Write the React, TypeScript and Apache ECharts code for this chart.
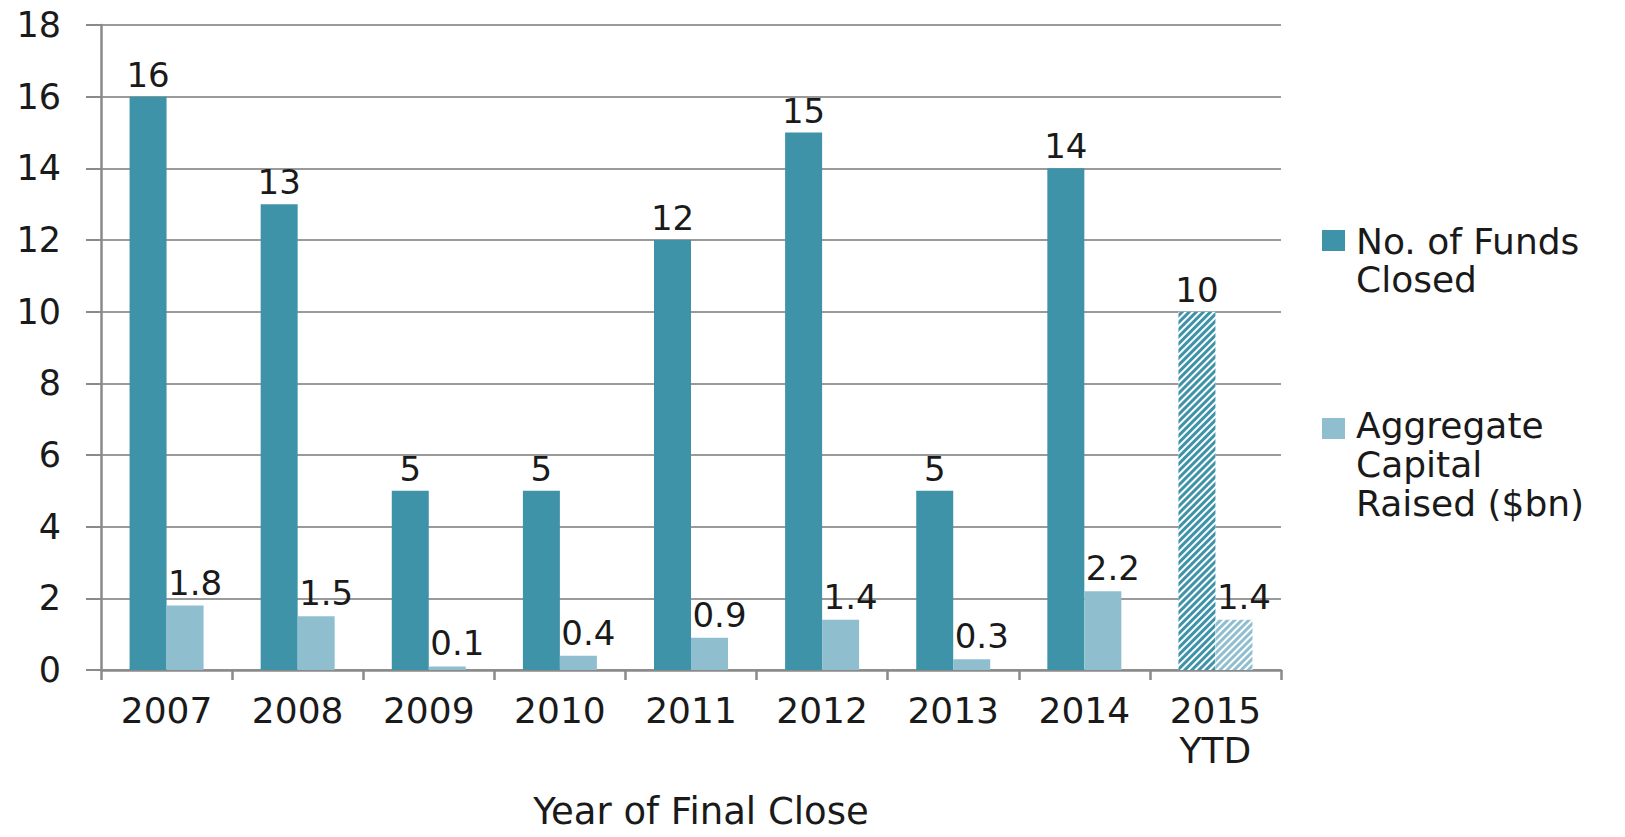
import React, { useEffect, useRef } from "react";
import * as echarts from "echarts";

const categories = ["2007", "2008", "2009", "2010", "2011", "2012", "2013", "2014", "2015\nYTD"];
const fundsClosed = [16, 13, 5, 5, 12, 15, 5, 14, 10];
const capitalRaised = [1.8, 1.5, 0.1, 0.4, 0.9, 1.4, 0.3, 2.2, 1.4];
const seriesNames = ["No. of Funds Closed", "Aggregate Capital Raised ($bn)"];
const legendLabels = ["No. of Funds\nClosed", "Aggregate\nCapital\nRaised ($bn)"];
const yTicks = { min: 0, max: 18, interval: 2 };
const xAxisTitle = "Year of Final Close";
const ytdIndex = 8;

const DARK = "#3F93A9";
const LIGHT = "#8FBFCF";
const FONT = "DejaVu Sans";
const TEXT = "#1a1a1a";

function hatch(color: string) {
  return {
    symbol: "rect",
    symbolSize: 1,
    dashArrayX: [1, 0],
    dashArrayY: [3, 2],
    rotation: -Math.PI / 4,
    color,
  };
}

function buildData(values: number[], color: string) {
  return values.map((v, i) =>
    i === ytdIndex
      ? { value: v, itemStyle: { color: "#ffffff", decal: hatch(color) } }
      : { value: v }
  );
}

export default function App() {
  const ref = useRef<HTMLDivElement>(null);
  useEffect(() => {
    if (!ref.current) return;
    const chart = echarts.init(ref.current, null, { renderer: "svg" });
    chart.setOption({
      animation: false,
      backgroundColor: "#ffffff",
      grid: {
        left: 101,
        right: 344,
        top: 25,
        bottom: 167,
        containLabel: false,
        outerBoundsMode: "none",
      },
      xAxis: {
        type: "category",
        data: categories,
        boundaryGap: true,
        axisLine: { lineStyle: { color: "#8a8a8a", width: 2.5 } },
        axisTick: { show: true, length: 10, lineStyle: { color: "#8a8a8a", width: 2.5 } },
        axisLabel: {
          fontFamily: FONT,
          fontSize: 36,
          color: TEXT,
          margin: 20,
          lineHeight: 40,
          interval: 0,
        },
        name: xAxisTitle,
        nameLocation: "middle",
        nameGap: 124,
        nameTextStyle: {
          fontFamily: FONT,
          fontSize: 37,
          lineHeight: 34,
          color: TEXT,
          padding: [0, 0, 0, 20],
        },
      },
      yAxis: {
        type: "value",
        min: yTicks.min,
        max: yTicks.max,
        interval: yTicks.interval,
        axisLine: { show: true, lineStyle: { color: "#8a8a8a", width: 2.5 } },
        axisTick: { show: true, length: 15, lineStyle: { color: "#8a8a8a", width: 2 } },
        axisLabel: { fontFamily: FONT, fontSize: 35, color: TEXT, margin: 40 },
        splitLine: { show: true, lineStyle: { color: "#9a9a9a", width: 2 } },
      },
      series: [
        {
          name: seriesNames[0],
          type: "bar",
          barWidth: 37,
          barGap: "0%",
          itemStyle: { color: DARK },
          data: buildData(fundsClosed, DARK),
          label: {
            show: true,
            position: "top",
            distance: 5,
            fontFamily: FONT,
            fontSize: 34,
            color: TEXT,
          },
        },
        {
          name: seriesNames[1],
          type: "bar",
          barWidth: 37,
          barGap: "0%",
          itemStyle: { color: LIGHT },
          data: buildData(capitalRaised, LIGHT),
          label: {
            show: true,
            position: "top",
            distance: 6,
            offset: [10, 0],
            fontFamily: FONT,
            fontSize: 34,
            color: TEXT,
          },
        },
      ],
      graphic: [
        { type: "rect", left: 1322, top: 230, shape: { width: 23, height: 21 }, style: { fill: DARK } },
        {
          type: "text",
          x: 1356,
          y: 222,
          style: {
            text: legendLabels[0],
            font: `36px ${FONT}`,
            lineHeight: 38,
            fill: TEXT,
            verticalAlign: "top",
          },
        },
        { type: "rect", left: 1322, top: 418, shape: { width: 23, height: 21 }, style: { fill: LIGHT } },
        {
          type: "text",
          x: 1356,
          y: 406,
          style: {
            text: legendLabels[1],
            font: `36px ${FONT}`,
            lineHeight: 39,
            fill: TEXT,
            verticalAlign: "top",
          },
        },
      ],
    });
    return () => chart.dispose();
  }, []);
  return (
    <div
      ref={ref}
      style={{ position: "absolute", left: 0, top: 0, width: 1625, height: 837 }}
    />
  );
}
